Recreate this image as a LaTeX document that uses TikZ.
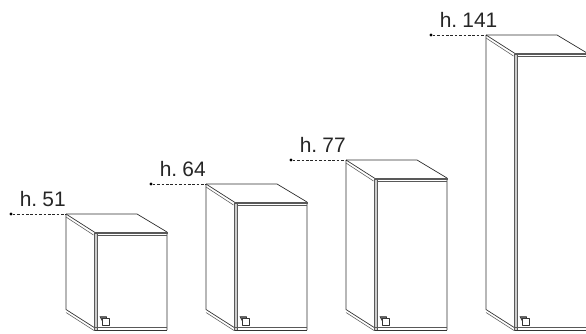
\documentclass[tikz,border=0pt]{standalone}
\usepackage{fontspec}
\setmainfont[WordSpace=0.55]{Liberation Sans}
\tikzset{
  edge/.style={draw=black!80,line width=0.7pt,line join=round},
  thin edge/.style={draw=black!65,line width=0.55pt},
  band/.style={draw=black!65,line width=0.5pt},
  leader/.style={draw=black!85,line width=0.7pt,dash pattern=on 2.6pt off 1.8pt},
  dot/.style={circle,fill=black,inner sep=0pt,minimum size=3.4pt},
  height/.style={anchor=base west,inner sep=0pt,text=black!85,font=\fontsize{21}{21}\selectfont},
}
\newcommand{\cabinet}[4]{%
  % #1 name, #2 x, #3 y of back-left top corner, #4 label
  \begin{scope}[shift={(#2,#3)}]
    \coordinate (#1c) at (0,0);
    \draw[edge] (0,0) -- (71,0) -- (101,18) -- (101,330-#3);
    \draw[edge] (0,0) -- (0,309.5-#3) -- (29,328-#3);
    \draw[thin edge] (0,3) -- (27.5,21);
    \draw[edge] (0,0) -- (29,18.5);
    \draw[thin edge] (0,312.5-#3) -- (28,330.5-#3);
    \draw[band,fill=black!35] (29,18) rectangle (101,19.2);
    \draw[thin edge] (29,21) -- (101,21);
    \draw[band,fill=black!20] (28.5,19) rectangle (31,330.5-#3);
    \draw[thin edge] (29,326.8-#3) -- (101,326.8-#3);
    \draw[edge] (29,330.4-#3) -- (101,330.4-#3);
    % handle glyph
    \draw[edge,line width=0.65pt] (36.3,318-#3) rectangle (43,325-#3);
    \draw[edge,line width=0.65pt,fill=black!60] (34,316.6-#3) -- (40.5,316.6-#3) -- (40.5,318.4-#3) -- (36.3,318.4-#3) -- (36.3,321-#3) -- cycle;
  \end{scope}
  \node[dot] (#1d) at ({#2-55},#3) {};
  \draw[leader] (#1d) -- (#1c);
  \node[height] (#1t) at ({#2-46.4},{#3-7.2}) {#4};
}
\begin{document}
\begin{tikzpicture}[x=1bp,y=-1bp]
  \useasboundingbox (0,0) rectangle (586,333);
  \cabinet{a}{66}{214}{h. 51}
  \cabinet{b}{206}{184}{h. 64}
  \cabinet{c}{346}{160}{h. 77}
  \cabinet{e}{486}{35}{h. 141}
\end{tikzpicture}
\end{document}
